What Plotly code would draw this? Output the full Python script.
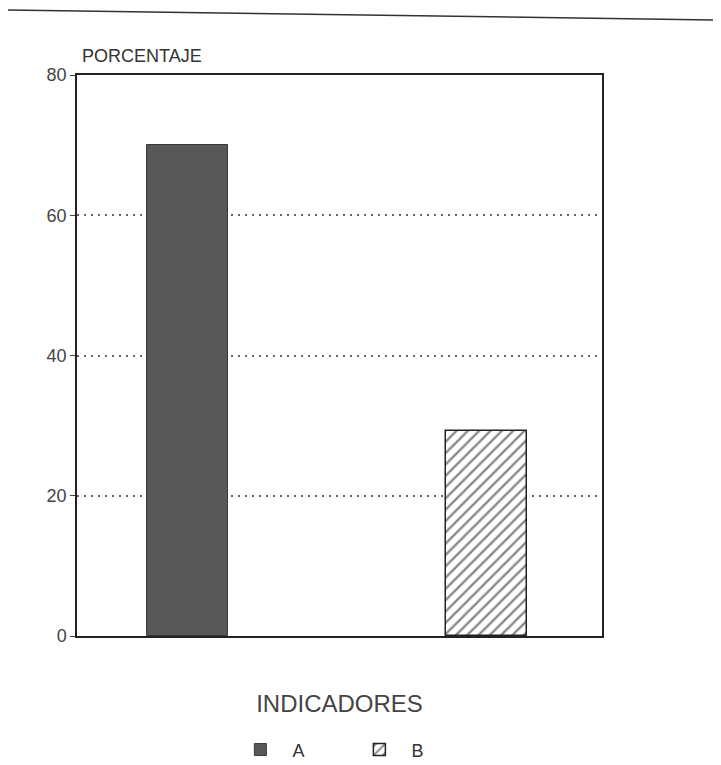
import plotly.graph_objects as go

categories = ["A", "B"]
values = [70, 29.3]
y_ticks = [0, 20, 40, 60, 80]
y_title = "PORCENTAJE"
x_title = "INDICADORES"

fig = go.Figure()
fig.add_trace(go.Bar(
    x=[categories[0]], y=[values[0]], name=categories[0], width=0.27,
    marker=dict(color="#585858", line=dict(color="#3a3a3a", width=1)),
))
fig.add_trace(go.Bar(
    x=[categories[1]], y=[values[1]], name=categories[1], width=0.27,
    marker=dict(color="white", line=dict(color="#222222", width=1.5),
                pattern=dict(shape="/", fgcolor="#111111", bgcolor="white", size=8, solidity=0.3)),
))

fig.update_layout(
    width=713, height=757,
    margin=dict(l=69, r=119, t=67, b=129, autoexpand=False),
    paper_bgcolor="white", plot_bgcolor="white",
    font=dict(family="Liberation Sans, Arial, sans-serif", color="#333333", size=16),
    showlegend=True,
    legend=dict(orientation="h", x=0.515, xanchor="center", yref="container", y=0.02, yanchor="middle",
                font=dict(size=18), itemwidth=54, entrywidth=50, entrywidthmode="pixels",
                traceorder="normal"),
    bargap=0,
    xaxis=dict(type="category", range=[-0.37, 1.386], showticklabels=False, ticks="",
               showgrid=False, showline=True, linecolor="#222222", linewidth=1.5, mirror=True,
               automargin=False,
               title=dict(text=x_title, font=dict(size=24, color="#444444"), standoff=58)),
    yaxis=dict(range=[0, 80], tickvals=y_ticks, ticks="outside", ticklen=5, tickcolor="#444444",
               showgrid=True, gridcolor="#666666", griddash="2px,5px", gridwidth=1.5,
               showline=True, linecolor="#222222", linewidth=1.5, mirror=True,
               automargin=False,
               zeroline=False, tickfont=dict(size=18, color="#444444")),
    annotations=[dict(text=y_title, xref="paper", yref="paper", x=0.005, y=1.012,
                      xanchor="left", yanchor="bottom", showarrow=False,
                      font=dict(size=18, color="#333333"))],
    shapes=[dict(type="line", xref="paper", yref="paper", x0=-0.1314, y0=1.1159, x1=1.2267, y1=1.098,
                 line=dict(color="#333333", width=1.5))],
)

fig.write_html("out.html")
